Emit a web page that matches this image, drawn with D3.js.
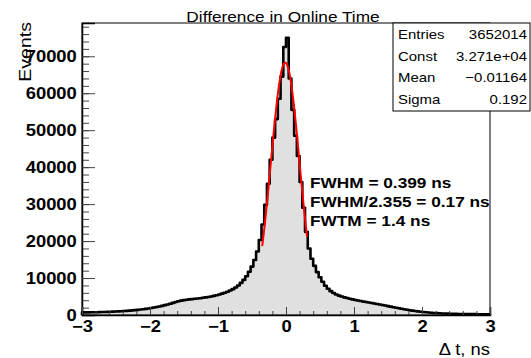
<!DOCTYPE html>
<html>
<head>
<meta charset="utf-8">
<script src="https://d3js.org/d3.v7.min.js"></script>
<style>
  body { margin: 0; background: #fff; }
  svg { display: block; font-family: "Liberation Sans", Arial, sans-serif; }
</style>
</head>
<body>
<svg id="chart" width="531" height="358"></svg>
<script>
// histogram: 150 bins of 0.04 ns from -3 to 3
const xRange = [-3, 3]
const counts = [
  700, 710, 720, 730, 740, 760, 780, 800, 820, 840,
  870, 900, 940, 980, 1020, 1070, 1120, 1180, 1240, 1310,
  1390, 1470, 1560, 1660, 1770, 1890, 2020, 2160, 2310, 2480,
  2660, 2850, 3060, 3280, 3500, 3700, 3880, 4020, 4130, 4220,
  4300, 4380, 4460, 4550, 4650, 4760, 4880, 5020, 5180, 5360,
  5560, 5780, 6020, 6300, 6620, 7000, 7450, 8000, 8700, 9500,
  10500, 11700, 13100, 14900, 17200, 20300, 24500, 29800, 35500, 42000,
  48000, 53000, 58500, 64500, 72500,
  75000, 64000, 55500, 48500, 43000, 36000, 29000, 22500, 18000, 15200,
  13300, 11600, 10200, 9000, 7900, 7100, 6450, 5950, 5550, 5250,
  5000, 4780, 4580, 4400, 4220, 4060, 3910, 3770, 3630, 3500,
  3370, 3240, 3110, 2980, 2850, 2710, 2560, 2410, 2260, 2110,
  1960, 1820, 1680, 1550, 1420, 1300, 1180, 1070, 970, 880,
  800, 730, 660, 600, 550, 500, 460, 420, 390, 360,
  340, 320, 300, 285, 270, 260, 250, 240, 230, 225,
  220, 215, 210, 205, 200
]
const yMax = 79000
const xTicks = [-3, -2, -1, 0, 1, 2, 3]
const yTicks = [0, 10000, 20000, 30000, 40000, 50000, 60000, 70000]
// gaussian fit as drawn
const fitPeak = 68300, fitMean = -0.01164, fitSigma = 0.21, fitRange = [-0.35, 0.31]
const statNames = ["Entries", "Const", "Mean", "Sigma"]
const statValues = ["3652014", "3.271e+04", "\u22120.01164", "0.192"]
const notes = ["FWHM = 0.399 ns", "FWHM/2.355 = 0.17 ns", "FWTM = 1.4 ns"]

const sx = 1.15
const L = 82, R = 490, T = 23, B = 315
const svg = d3.select("#chart")
const x = d3.scaleLinear().domain(xRange).range([L, R])
const y = d3.scaleLinear().domain([0, yMax]).range([B, T])
const bw = (xRange[1] - xRange[0]) / counts.length

// histogram path
let pts = [[x(xRange[0]), y(0)]]
counts.forEach(function(c, i) {
  const lo = xRange[0] + i * bw, hi = lo + bw
  pts.push([x(lo), y(c)])
  pts.push([x(hi), y(c)])
})
pts.push([x(xRange[1]), y(0)])
svg.append("path")
  .attr("d", d3.line()(pts))
  .attr("fill", "#e0e0e0")
  .attr("stroke", "#000")
  .attr("stroke-width", 2.6)
  .attr("stroke-linejoin", "round")

// fit curve
const fitPts = d3.range(0, 101).map(function(k) {
  const t = fitRange[0] + (fitRange[1] - fitRange[0]) * k / 100
  return [x(t), y(fitPeak * Math.exp(-0.5 * Math.pow((t - fitMean) / fitSigma, 2)))]
})
svg.append("path")
  .attr("d", d3.line()(fitPts))
  .attr("fill", "none")
  .attr("stroke", "#ff0000")
  .attr("stroke-width", 2)

// frame
svg.append("rect")
  .attr("x", L).attr("y", T).attr("width", R - L).attr("height", B - T)
  .attr("fill", "none").attr("stroke", "#000").attr("stroke-width", 1)

// y axis
const yMinor = d3.range(0, yMax + 1, 2000)
svg.append("g").attr("transform", "translate(" + L + ",0)")
  .call(d3.axisLeft(y).tickValues(yMinor).tickSize(-7).tickFormat(""))
  .call(g => g.select(".domain").remove())
  .call(g => g.selectAll("line").attr("stroke", "#444"))
const yAx = svg.append("g").attr("transform", "translate(" + L + ",0)")
  .call(d3.axisLeft(y).tickValues(yTicks).tickSize(-13).tickPadding(5).tickFormat(d3.format("d")))
yAx.select(".domain").attr("stroke", "#000").attr("stroke-width", 1.5)
yAx.selectAll("line").attr("stroke", "#444")
yAx.selectAll("text")
  .attr("font-size", 16).attr("font-weight", "bold").attr("fill", "#000")
  .attr("font-family", "Liberation Sans, Arial, sans-serif")
  .attr("transform", "scale(" + sx + ",1)")
  .attr("x", -4.5)

// x axis
const xMinor = d3.range(-3, 3.001, 0.2)
svg.append("g").attr("transform", "translate(0," + B + ")")
  .call(d3.axisBottom(x).tickValues(xMinor).tickSize(-4).tickFormat(""))
  .call(g => g.select(".domain").remove())
  .call(g => g.selectAll("line").attr("stroke", "#444"))
const xAx = svg.append("g").attr("transform", "translate(0," + B + ")")
  .call(d3.axisBottom(x).tickValues(xTicks).tickSize(-8).tickPadding(6)
    .tickFormat(function(d) { return d < 0 ? "\u2212" + Math.abs(d) : d }))
xAx.select(".domain").attr("stroke", "#000").attr("stroke-width", 1.5)
xAx.selectAll("line").attr("stroke", "#444")
xAx.selectAll("text")
  .attr("font-size", 16).attr("font-weight", "bold").attr("fill", "#000")
  .attr("font-family", "Liberation Sans, Arial, sans-serif")
  .attr("transform", "scale(" + sx + ",1)")
  .attr("x", 0)

// axis titles
svg.append("text")
  .attr("transform", "translate(490,354.5) scale(" + sx + ",1)")
  .attr("text-anchor", "end").attr("font-size", 16)
  .text("\u0394 t, ns")
svg.append("text")
  .attr("transform", "translate(31,22) rotate(-90) scale(" + sx + ",1)")
  .attr("text-anchor", "end").attr("font-size", 17)
  .text("Events")

// title
svg.append("text")
  .attr("transform", "translate(283,22) scale(" + sx + ",1)")
  .attr("text-anchor", "middle").attr("font-size", 15)
  .text("Difference in Online Time")

// stats box
svg.append("rect")
  .attr("x", 393).attr("y", T).attr("width", 137).attr("height", 88)
  .attr("fill", "#fff").attr("stroke", "#000").attr("stroke-width", 1)
statNames.forEach(function(s, i) {
  const yy = 39 + i * 21.7
  svg.append("text")
    .attr("transform", "translate(398," + yy + ") scale(" + sx + ",1)")
    .attr("font-size", 13).text(s)
  svg.append("text")
    .attr("transform", "translate(527," + yy + ") scale(" + sx + ",1)")
    .attr("text-anchor", "end").attr("font-size", 13).text(statValues[i])
})

// FWHM notes
notes.forEach(function(s, i) {
  svg.append("text")
    .attr("transform", "translate(310," + (188 + i * 19) + ") scale(" + sx + ",1)")
    .attr("font-size", 15).attr("font-weight", "bold").text(s)
})
</script>
</body>
</html>
